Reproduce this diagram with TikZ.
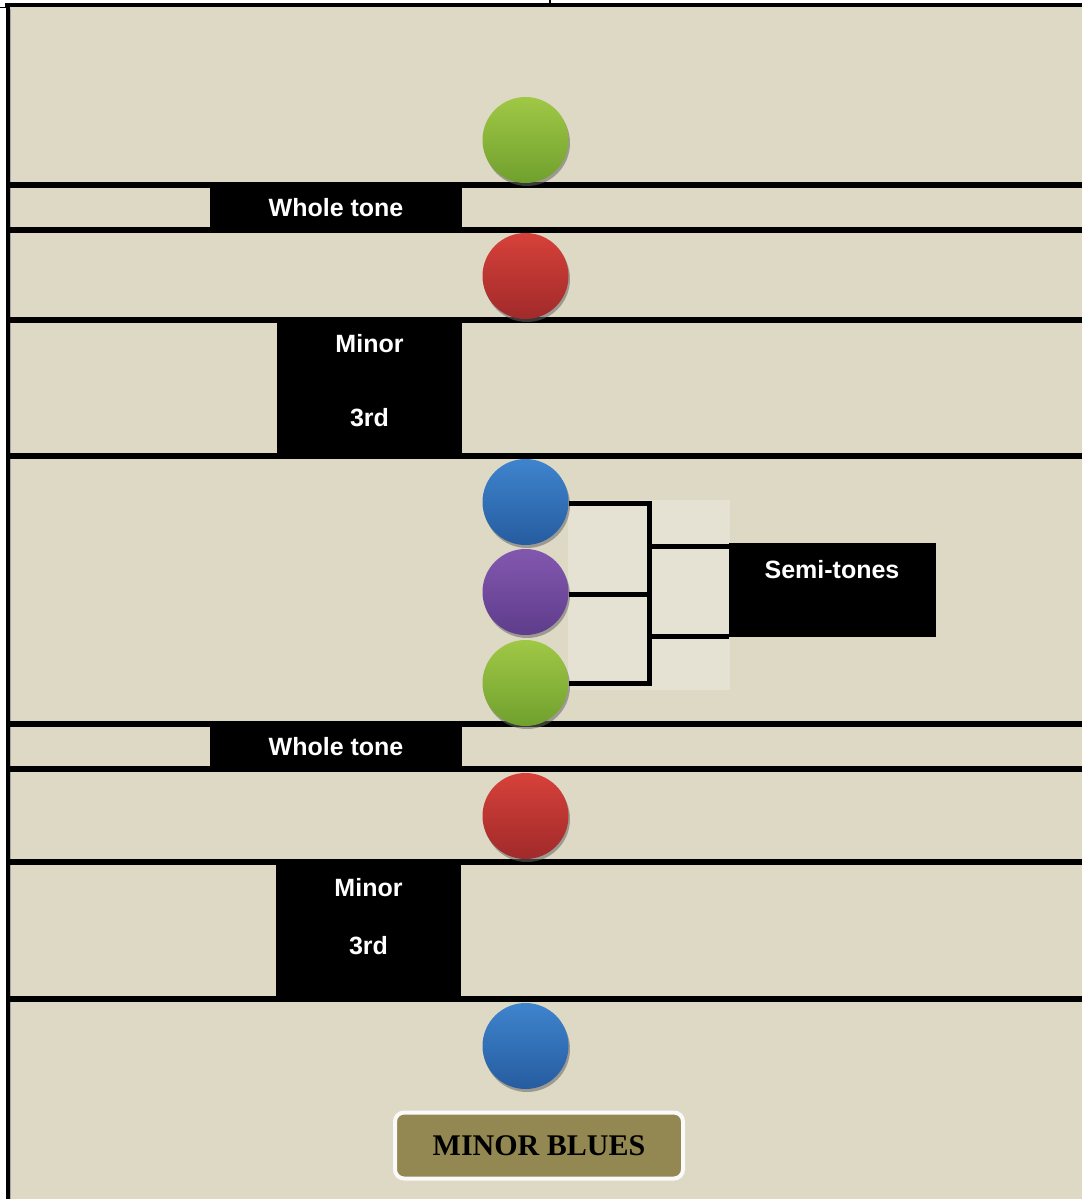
\documentclass[tikz,border=0pt]{standalone}
\usepackage{fontspec}
\setmainfont{Liberation Serif}
\newfontfamily\sansb{Liberation Sans}
\usetikzlibrary{shadows}
\definecolor{bg}{RGB}{222,217,196}
\definecolor{bgl}{RGB}{229,226,212}
\definecolor{olivebox}{RGB}{147,136,82}
\definecolor{gtop}{RGB}{160,200,70}
\definecolor{gbot}{RGB}{112,160,45}
\definecolor{rtop}{RGB}{215,65,58}
\definecolor{rbot}{RGB}{160,42,42}
\definecolor{btop}{RGB}{62,132,205}
\definecolor{bbot}{RGB}{38,92,160}
\definecolor{ptop}{RGB}{130,88,175}
\definecolor{pbot}{RGB}{95,60,140}
\tikzset{
  hline/.style={line width=6pt, black},
  ball/.style={circle, minimum size=86pt, inner sep=0pt,
    drop shadow={shadow xshift=1.5pt, shadow yshift=-3pt, fill=gray!80!black, opacity=0.55}},
  greenball/.style={ball, top color=gtop, bottom color=gbot},
  redball/.style={ball, top color=rtop, bottom color=rbot},
  blueball/.style={ball, top color=btop, bottom color=bbot},
  purpleball/.style={ball, top color=ptop, bottom color=pbot},
  tagbox/.style={fill=black, inner sep=0pt, text=white, font=\sansb\bfseries\fontsize{25}{30}\selectfont},
  lbl/.style={inner sep=0pt, text=white, font=\sansb\bfseries\fontsize{25}{30}\selectfont},
  brk/.style={line width=5pt, black}
}
\begin{document}
\begin{tikzpicture}[x=1pt,y=-1pt]
\useasboundingbox (0,0) rectangle (1082,1199);
\fill[white] (0,0) rectangle (1082,1199);
\fill[bg] (8,6) rectangle (1082,1199);
\draw[gray!70, line width=1pt] (10.5,9) -- (10.5,1199);
% frame
\draw[line width=4pt] (5,5) -- (1082,5);
\draw[line width=1.5pt] (550,0) -- (550,5);
\draw[line width=4pt] (8,5) -- (8,1199);
\draw[line width=1.5pt] (0,7.5) -- (8,7.5);
% lighter area behind bracket
\fill[bgl] (568,500) rectangle (730,690);
% horizontal lines
\foreach \yy in {185,230,320,456,724,769,862,999}
  \draw[hline] (8,\yy) -- (1082,\yy);
% label boxes
\node[tagbox, minimum width=252pt, minimum height=46pt] (wt1) at (336,207.5) {Whole tone};
\node[tagbox, minimum width=185pt, minimum height=136pt] (m1) at (369.5,388) {};
\node[lbl] (m1a) at (369.5,344) {Minor};
\node[lbl] (m1b) at (369.5,418) {3rd};
\node[tagbox, minimum width=252pt, minimum height=45pt] (wt2) at (336,746.5) {Whole tone};
\node[tagbox, minimum width=185pt, minimum height=137pt] (m2) at (368.5,930.5) {};
\node[lbl] (m2a) at (368.5,888) {Minor};
\node[lbl] (m2b) at (368.5,946) {3rd};
\node[tagbox, minimum width=207pt, minimum height=94pt] (semi) at (832.5,590) {};
\node[lbl] (semit) at (832,570) {Semi-tones};
% balls
\node[greenball] (g1) at (525.5,140) {};
\node[redball] (r1) at (525.5,276) {};
\node[blueball] (b1) at (525.5,502) {};
\node[purpleball] (p1) at (525.5,592) {};
\node[greenball] (g2) at (525.5,683) {};
\node[redball] (r2) at (525.5,816) {};
\node[blueball] (b2) at (525.5,1046) {};
% bracket
\coordinate (jt) at (649,503.5);
\coordinate (ja) at (649,546);
\coordinate (jb) at (649,636);
\coordinate (be) at (b1.east |- jt);
\coordinate (pe) at ([yshift=-2pt]p1.east);
\draw[brk] (be) -- (jt) -- (jt |- g2.east) -- (g2.east);
\draw[brk] (pe) -- (jt |- pe);
\draw[brk] (ja) -- (semi.west |- ja);
\draw[brk] (jb) -- (semi.west |- jb);
% title
\node[draw=white!96!gray, line width=4pt, fill=olivebox, rounded corners=9pt,
  minimum width=288pt, minimum height=66pt, inner sep=0pt,
  font=\bfseries\fontsize{30}{36}\selectfont] (title) at (539,1145.5) {MINOR BLUES};
\end{tikzpicture}
\end{document}
